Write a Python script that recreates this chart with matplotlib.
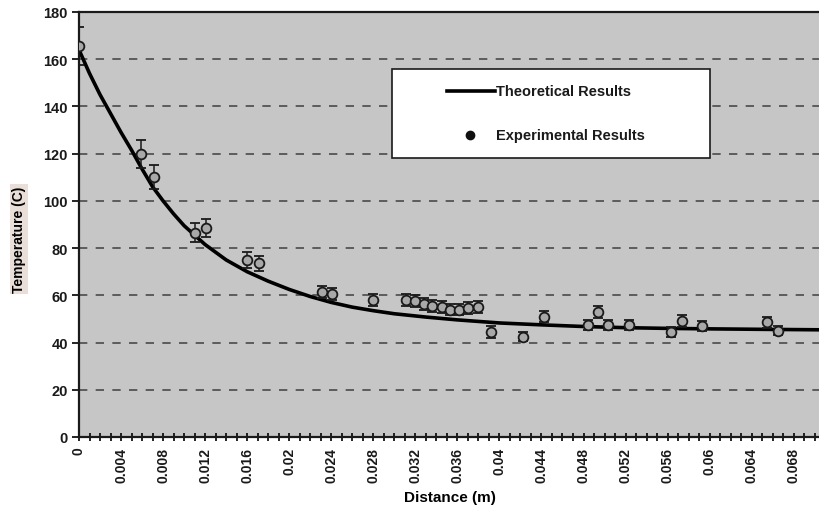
import matplotlib
matplotlib.use("Agg")
from matplotlib import pyplot as plt
from matplotlib.ticker import MultipleLocator, FuncFormatter
from matplotlib.patches import Rectangle
from matplotlib.lines import Line2D

plt.rcParams['font.family'] = ['Liberation Sans', 'DejaVu Sans']

# theoretical curve
theo_x = [0, 0.001, 0.002, 0.003, 0.004, 0.005, 0.006, 0.007, 0.008, 0.009,
          0.010, 0.012, 0.014, 0.016, 0.018, 0.020, 0.022, 0.024, 0.026, 0.028,
          0.030, 0.033, 0.036, 0.040, 0.044, 0.048, 0.052, 0.056, 0.060, 0.065, 0.0705]
theo_t = [164, 154, 145, 137, 129, 121.5, 113.5, 106, 100, 94.5,
          89.5, 81.5, 75, 70, 66, 62.5, 59.5, 57, 55, 53.5,
          52.2, 50.8, 49.6, 48.3, 47.5, 46.8, 46.3, 46, 45.8, 45.6, 45.4]

# experimental points with error bars
exp_x = [0.0, 0.0059, 0.0071, 0.011, 0.0121, 0.016, 0.0171, 0.0231, 0.0241, 0.028,
         0.0311, 0.032, 0.0328, 0.0336, 0.0345, 0.0353, 0.0362, 0.037, 0.038,
         0.0392, 0.0422, 0.0442, 0.0484, 0.0494, 0.0503, 0.0523, 0.0563, 0.0574,
         0.0593, 0.0655, 0.0665]
exp_t = [165.5, 120, 110, 86.5, 88.5, 75, 73.5, 61.5, 60.5, 58,
         58, 57.5, 56.5, 55.5, 55, 54, 54, 54.5, 55,
         44.5, 42.5, 51, 47.5, 53, 47.5, 47.5, 44.5, 49,
         47, 48.5, 45]
exp_err = [8, 6, 5, 4, 4, 3.5, 3, 2.5, 2.5, 2.5,
           2.5, 2.5, 2.5, 2.5, 2.5, 2.5, 2.5, 2.5, 2.5,
           2.5, 2, 2.5, 2, 2.5, 2, 2, 2, 2.5,
           2, 2.5, 2]

y_ticks = [0, 20, 40, 60, 80, 100, 120, 140, 160, 180]

fig = plt.figure(figsize=(8.2, 5.1), dpi=100)
ax = fig.add_axes([79 / 820, 72 / 510, 741 / 820, 425 / 510])
ax.set_facecolor('#c6c6c6')

for yv in y_ticks[1:-1]:
    ax.axhline(yv, color='#4a4a4a', lw=1.2, dashes=(5, 5), zorder=1)

ax.plot(theo_x, theo_t, color='black', lw=2.6, zorder=3)
ax.errorbar(exp_x, exp_t, yerr=exp_err, fmt='o', ms=7, mfc='#a8a8a8', mec='#1a1a1a',
            mew=1.3, ecolor='#1a1a1a', elinewidth=1.1, capsize=3.5, capthick=1.1, zorder=4)

ax.set_xlim(0, 0.0705)
ax.set_ylim(0, 180)
ax.set_yticks(y_ticks)
ax.xaxis.set_major_locator(MultipleLocator(0.004))
ax.xaxis.set_minor_locator(MultipleLocator(0.001))
ax.xaxis.set_major_formatter(FuncFormatter(lambda v, p: '%g' % round(v, 3)))
ax.tick_params(axis='x', which='both', direction='inout', length=6, width=1.2,
               labelrotation=90, labelsize=10, pad=4)
ax.tick_params(axis='y', direction='out', length=5, width=1.2, labelsize=10.5, pad=3)
for lab in ax.get_xticklabels() + ax.get_yticklabels():
    lab.set_fontweight('bold')
    lab.set_color('#1a1a1a')

for s in ['left', 'bottom', 'top']:
    ax.spines[s].set_linewidth(1.6)
    ax.spines[s].set_color('#1a1a1a')
ax.spines['right'].set_visible(False)

ax.set_xlabel('Distance (m)', fontsize=11, fontweight='bold', labelpad=6)
fig.text(19 / 820, 1 - 240 / 510, 'Temperature (C)', rotation=90, fontsize=10,
         fontweight='bold', ha='center', va='center',
         bbox=dict(boxstyle='square,pad=0.15', fc='#eadfd8', ec='none'))

# legend box drawn by hand to match the offset layout
ax.add_patch(Rectangle((0.422, 0.656), 0.43, 0.21, transform=ax.transAxes,
                       fc='white', ec='#1a1a1a', lw=1.2, zorder=6))
ax.add_line(Line2D([0.497, 0.561], [0.814, 0.814], transform=ax.transAxes,
                   color='black', lw=2.6, zorder=7))
ax.text(0.563, 0.814, 'Theoretical Results', transform=ax.transAxes, fontsize=10.5,
        fontweight='bold', va='center', ha='left', color='#1a1a1a', zorder=7)
ax.add_line(Line2D([0.528], [0.711], transform=ax.transAxes, marker='o', ms=6,
                   color='#111111', zorder=7))
ax.text(0.563, 0.711, 'Experimental Results', transform=ax.transAxes, fontsize=10.5,
        fontweight='bold', va='center', ha='left', color='#1a1a1a', zorder=7)

fig.savefig('out.png', dpi=100)
